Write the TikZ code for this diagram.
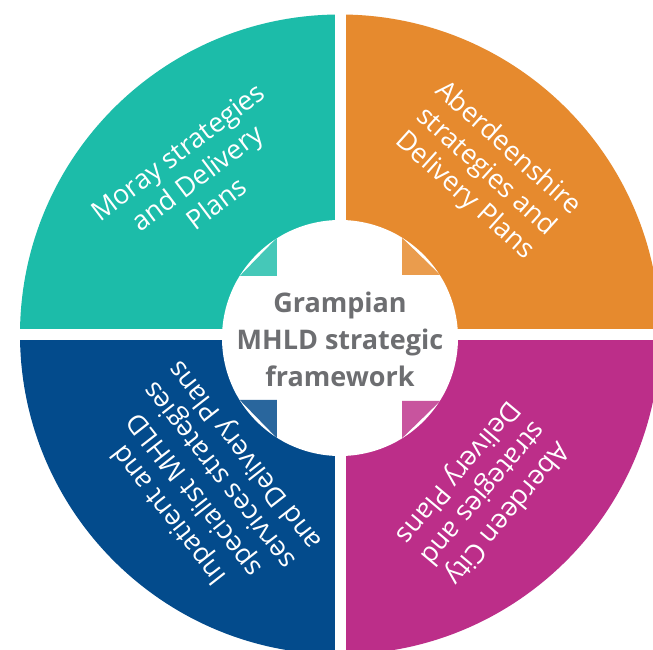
\documentclass[tikz,border=0pt]{standalone}
\usepackage{fontspec}
\setmainfont{Open Sans}
\definecolor{qteal}{HTML}{1CBCA9}
\definecolor{qorange}{HTML}{E68A2E}
\definecolor{qblue}{HTML}{034B8C}
\definecolor{qmag}{HTML}{BC2E89}
\definecolor{ctext}{HTML}{6D6E71}
\tikzset{
  qlabel/.style={text=white, align=center, font=\fontsize{27}{32}\selectfont, inner sep=0pt},
  clabel/.style={text=ctext, align=center, font=\fontsize{27}{37}\selectfont\bfseries, inner sep=0pt},
}
\begin{document}
\begin{tikzpicture}[x=1pt,y=1pt]
\clip (-340,-315.5) rectangle (313,334.5);
\fill[white] (-340,-315.5) rectangle (313,334.5);
% quadrants
\fill[qteal] (0,0) -- (180:320) arc (180:90:320) -- cycle;
\fill[qorange] (0,0) -- (90:320) arc (90:0:320) -- cycle;
\fill[qmag] (0,0) -- (0:320) arc (0:-90:320) -- cycle;
\fill[qblue] (0,0) -- (-90:320) arc (-90:-180:320) -- cycle;
% inner white disc
\fill[white] (0,-3.5) circle (118);
% light corner tabs
\begin{scope}[shift={(0,-3.5)}]
\fill[qteal!82!white] (-63,62) -- (-63,100.2) -- (-100.2,62) -- cycle;
\fill[qorange!85!white] (62,63) -- (62,100.2) -- (100.2,63) -- cycle;
\fill[qblue!85!white] (-63,-62) -- (-63,-100.2) -- (-100.2,-62) -- cycle;
\fill[qmag!82!white] (62,-63) -- (62,-100.2) -- (100.2,-63) -- cycle;
\end{scope}
% gaps
\fill[white] (-5.5,-340) rectangle (5.5,340);
\fill[white] (-345,-5.5) rectangle (345,5.5);
% labels
\node[qlabel, rotate=37] (moray) at (-143,157) {Moray strategies\\and Delivery\\Plans};
\node[qlabel, rotate=-42] (aberdeenshire) at (146,162) {Aberdeenshire\\strategies and\\Delivery Plans};
\node[qlabel, rotate=128] (inpatient) at (-132,-150) {Inpatient and\\specialist MHLD\\services strategies\\and Delivery Plans};
\node[qlabel, rotate=230] (aberdeen) at (142,-158) {Aberdeen City\\strategies and\\Delivery Plans};
\node[clabel] (centre) at (0,-5) {Grampian\\MHLD strategic\\framework};
\end{tikzpicture}
\end{document}
